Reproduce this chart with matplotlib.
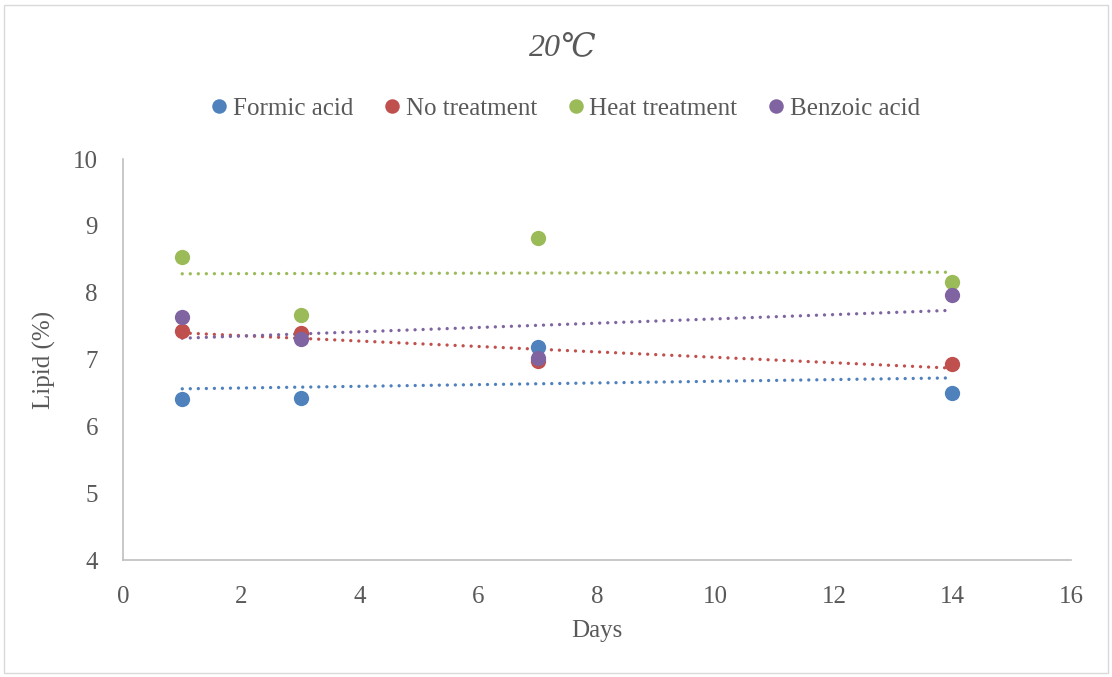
import numpy as np
import matplotlib
matplotlib.use("Agg")
import matplotlib.pyplot as plt
from matplotlib.patches import Rectangle

# Lipid content (%) over storage days at 20 °C
days = [1, 3, 7, 14]
formic = [6.41, 6.42, 7.18, 6.50]
no_treat = [7.43, 7.39, 6.98, 6.94]
heat = [8.53, 7.66, 8.82, 8.16]
benzoic = [7.64, 7.31, 7.03, 7.97]

series = [
    ("Formic acid", formic, "#4F81BD"),
    ("No treatment", no_treat, "#C0504D"),
    ("Heat treatment", heat, "#9BBB59"),
    ("Benzoic acid", benzoic, "#8064A2"),
]

TXT = "#595959"
plt.rcParams["font.family"] = ["Liberation Serif", "DejaVu Serif"]

fig = plt.figure(figsize=(11.12, 6.77), dpi=100)
ax = fig.add_axes([0.1106, 0.1728, 0.8525, 0.5923])

# chart border
fig.patches.append(Rectangle((4 / 1112, 4 / 677), 1104 / 1112, 668 / 677,
                             transform=fig.transFigure, fill=False,
                             edgecolor="#D9D9D9", linewidth=1))

x = np.array(days, dtype=float)
for name, vals, col in series:
    # linear trendline
    k, b = np.polyfit(x, vals, 1)
    xs = np.array([x.min(), x.max()])
    ax.plot(xs, k * xs + b, color=col, lw=2.4, linestyle=(0, (0.01, 2.4)),
            dash_capstyle="round", zorder=2)
for name, vals, col in series:
    ax.plot(days, vals, "o", color=col, markersize=11, label=name,
            markeredgewidth=0, zorder=3)

ax.set_xlim(0, 16)
ax.set_ylim(4, 10)
ax.set_xticks(range(0, 17, 2))
ax.set_yticks(range(4, 11))
ax.tick_params(length=0, labelsize=18, colors=TXT)
ax.tick_params(axis="x", pad=19)
ax.tick_params(axis="y", pad=18)
for s in ["top", "right"]:
    ax.spines[s].set_visible(False)
for s in ["left", "bottom"]:
    ax.spines[s].set_color("#BFBFBF")
    ax.spines[s].set_linewidth(1.2)

ax.set_xlabel("Days", fontsize=18, color=TXT, labelpad=8)
ax.set_ylabel("Lipid (%)", fontsize=18, color=TXT, labelpad=12)

fig.text(0.506, 0.93, "20\u2103", ha="center", va="center", fontsize=23,
         style="italic", color=TXT)

leg = fig.legend(loc="center", bbox_to_anchor=(0.506, 0.84), ncol=4,
                 frameon=False, fontsize=18, handletextpad=0.0,
                 columnspacing=1.0, markerscale=0.95, handlelength=1.1)
for t in leg.get_texts():
    t.set_color(TXT)

fig.savefig("out.png", dpi=100, facecolor="white")
